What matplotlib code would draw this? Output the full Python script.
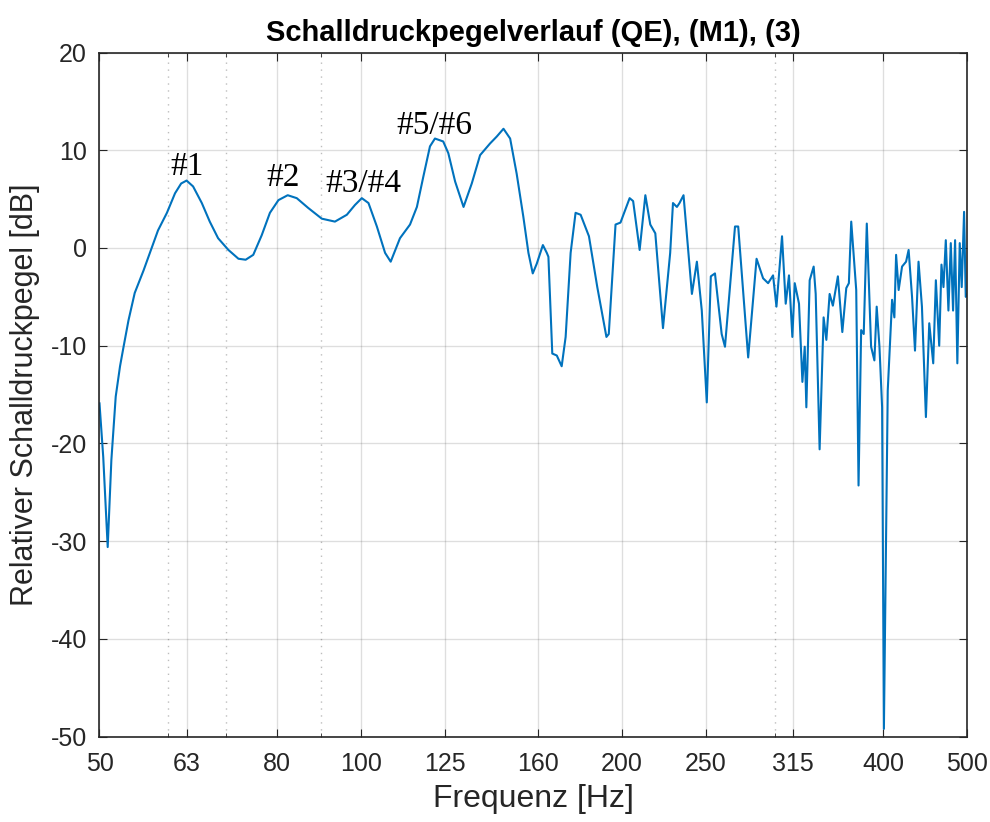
import numpy as np
import matplotlib
matplotlib.use("Agg")
import matplotlib.pyplot as plt
from matplotlib.ticker import FixedLocator, NullFormatter

# frequency [Hz] and relative level [dB]
freq = [
    50.0, 50.5, 51.1, 51.6, 52.2, 52.8, 53.3, 54.0, 54.9, 56.2,
    57.7, 58.4, 59.8, 61.1, 62.1, 63.0, 64.1, 65.6, 67.0, 68.5,
    70.4, 72.3, 73.7, 75.2, 76.9, 78.6, 80.4, 82.4, 84.4, 87.0,
    90.2, 93.4, 96.4, 98.5, 100.3, 102.1, 104.4, 106.7, 108.3, 111.0,
    114.0, 116.1, 118.1, 120.2, 121.8, 124.5, 126.2, 128.5, 131.4, 134.3,
    137.3, 141.0, 143.5, 146.1, 148.7, 151.3, 154.0, 156.1, 157.9, 159.6,
    162.2, 163.9, 164.6, 166.3, 168.3, 170.5, 172.3, 174.6, 176.9, 179.3,
    183.3, 187.4, 192.0, 193.2, 196.7, 199.3, 204.2, 206.1, 209.7, 212.9,
    215.7, 218.6, 223.1, 227.4, 229.1, 231.5, 233.1, 235.6, 240.9, 244.1,
    247.3, 250.6, 253.3, 256.1, 260.7, 263.0, 270.1, 272.4, 279.7, 286.0,
    291.0, 294.9, 298.8, 301.5, 306.0, 309.0, 311.7, 314.5, 316.5, 320.1,
    323.0, 325.0, 326.4, 329.3, 332.8, 334.6, 338.1, 341.7, 344.2, 347.2,
    350.2, 354.9, 359.1, 362.9, 365.4, 367.7, 372.6, 374.9, 377.5, 380.1,
    383.2, 387.6, 391.0, 393.4, 396.3, 399.1, 401.0, 405.1, 409.8, 412.3,
    414.2, 417.0, 420.8, 425.3, 428.2, 432.1, 435.5, 439.6, 443.6, 448.3,
    452.3, 457.1, 460.3, 464.4, 467.2, 469.7, 472.6, 475.9, 478.9, 481.8,
    484.4, 487.3, 490.4, 493.0, 496.1, 498.3, 500.0,
]
level = [
    -15.9, -21.4, -30.6, -21.7, -15.2, -12.1, -10.1, -7.4, -4.6, -2.3,
    0.5, 1.8, 3.6, 5.6, 6.6, 6.9, 6.3, 4.6, 2.7, 1.0,
    -0.2, -1.1, -1.2, -0.7, 1.3, 3.6, 4.9, 5.4, 5.1, 4.1,
    3.0, 2.7, 3.4, 4.4, 5.1, 4.6, 2.2, -0.5, -1.4, 1.0,
    2.4, 4.2, 7.3, 10.4, 11.2, 10.9, 9.7, 6.8, 4.2, 6.6,
    9.5, 10.7, 11.4, 12.2, 11.2, 7.6, 3.2, -0.5, -2.6, -1.6,
    0.3, -0.5, -0.9, -10.8, -11.0, -12.1, -9.1, -0.5, 3.6, 3.4,
    1.2, -4.0, -9.1, -8.8, 2.4, 2.6, 5.1, 4.8, -0.2, 5.4,
    2.4, 1.5, -8.2, -0.5, 4.6, 4.2, 4.6, 5.4, -4.7, -1.4,
    -6.4, -15.8, -2.9, -2.6, -8.8, -10.1, 2.2, 2.2, -11.2, -1.1,
    -3.1, -3.6, -2.8, -6.0, 1.2, -5.7, -2.8, -9.1, -3.6, -5.7,
    -13.7, -10.1, -16.3, -3.3, -1.9, -4.7, -20.6, -7.1, -9.4, -4.7,
    -5.9, -2.9, -8.6, -4.1, -3.6, 2.7, -4.3, -24.3, -8.4, -8.8,
    2.5, -10.1, -11.5, -6.0, -10.1, -16.3, -49.2, -14.6, -5.3, -7.1,
    -0.7, -4.3, -1.9, -1.4, -0.2, -5.0, -10.5, -1.4, -6.0, -17.3,
    -7.7, -11.8, -3.3, -10.0, -1.7, -4.0, 0.8, -6.4, 0.5, -6.4,
    0.8, -11.8, 0.5, -4.0, 3.7, -5.0, -4.8,
]

xticks = [50, 63, 80, 100, 125, 160, 200, 250, 315, 400, 500]
xminor = [60, 70, 90, 300]
yticks = [-50, -40, -30, -20, -10, 0, 10, 20]

# peak labels: (text, frequency, level)
peak_labels = [("#1", 63.1, 7.5), ("#2", 81.5, 6.3), ("#3/#4", 100.8, 5.7), ("#5/#6", 121.6, 11.7)]

plt.rcParams['font.family'] = ['Liberation Sans', 'DejaVu Sans']
plt.rcParams['axes.unicode_minus'] = False
axis_col = '#262626'

fig = plt.figure(figsize=(9.9, 8.22), dpi=100)
ax = fig.add_axes([0.1005, 0.1038, 0.8763, 0.8323])

ax.plot(freq, level, color='#0072BD', lw=1.5)
ax.set_xscale('log')
ax.set_xlim(50, 500)
ax.set_ylim(-50, 20)

ax.xaxis.set_major_locator(FixedLocator(xticks))
ax.set_xticklabels([str(t) for t in xticks])
ax.xaxis.set_minor_locator(FixedLocator(xminor))
ax.xaxis.set_minor_formatter(NullFormatter())
ax.set_yticks(yticks)

ax.grid(True, which='major', color='#262626', alpha=0.15, lw=1.0)
ax.grid(True, which='minor', axis='x', color='#262626', alpha=0.3, lw=1.0, ls=(0, (1, 4)))

ax.tick_params(which='both', direction='in', top=True, right=True,
               colors=axis_col, labelsize=18, length=6)
ax.tick_params(axis='x', which='major', pad=11)
ax.tick_params(axis='y', which='major', pad=9)
ax.tick_params(which='minor', length=3)
for s in ax.spines.values():
    s.set_color(axis_col)
    s.set_linewidth(1.2)

ax.set_xlabel('Frequenz [Hz]', fontsize=23, color=axis_col, labelpad=6)
ax.set_ylabel('Relativer Schalldruckpegel [dB]', fontsize=22, color=axis_col, labelpad=8)
ax.set_title('Schalldruckpegelverlauf (QE), (M1), (3)', fontsize=21,
             fontweight='bold', color='black', pad=8)

for txt, fx, fy in peak_labels:
    ax.text(fx, fy, txt, family='Liberation Serif', fontsize=24,
            ha='center', va='baseline', color='black')

fig.savefig('out.png', dpi=100, facecolor='white')
